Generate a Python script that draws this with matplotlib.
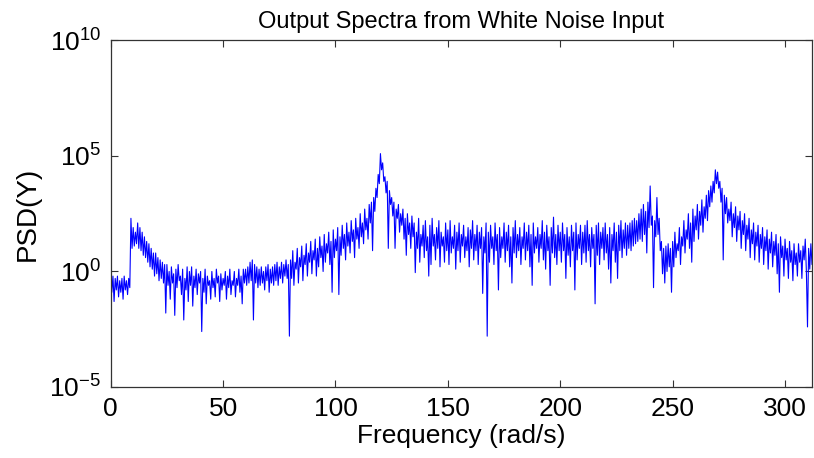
import matplotlib
matplotlib.use("Agg")
import matplotlib.pyplot as plt
from matplotlib.ticker import NullLocator, FixedLocator

plt.rcParams.update({
    "font.family": ["Liberation Sans", "DejaVu Sans"],
    "mathtext.default": "regular",
    "axes.unicode_minus": False,
})

# PSD, stored as log10 values, one every 0.5 rad/s from 0
psd_log10 = [
    0.3, -0.9, -0.2, -1.3, -0.3, -0.8, -0.2, -1.1, -0.4, -0.9,
    -0.3, -1.2, -0.2, -0.8, -0.4, -1.0, -0.3, -0.7, 2.3, 1.0,
    1.9, 1.1, 1.7, 1.2, 2.1, 1.0, 1.9, 0.9, 1.7, 0.7,
    1.5, 0.6, 1.3, 0.4, 1.2, 0.2, 1.0, 0.1, 0.8, -0.2,
    0.8, -0.1, 0.6, -0.4, 0.5, -0.3, 0.4, -0.5, 0.3, -1.8,
    0.3, -0.6, 0.0, -1.2, 0.2, -0.5, -0.1, -1.9, 0.1, -0.7,
    0.3, -0.4, -0.2, -1.0, 0.1, -2.1, -0.3, -0.8, 0.2, -1.3,
    0.0, -0.6, 0.2, -1.5, -0.2, -0.7, 0.1, -1.0, -0.1, -0.5,
    0.0, -2.6, -0.3, -0.9, 0.1, -1.4, -0.2, -0.6, -0.4, -1.2,
    0.0, -0.7, -0.3, -1.1, 0.1, -0.5, -0.2, -1.3, -0.1, -0.8,
    -0.3, -0.6, 0.0, -1.2, -0.2, -0.7, 0.1, -1.0, -0.4, -0.6,
    0.0, -1.1, -0.3, -0.6, 0.1, -0.9, -0.2, -1.4, 0.1, -0.5,
    0.1, -0.6, 0.2, -0.5, 0.4, -0.4, 0.5, -2.1, 0.3, -0.5,
    0.2, -0.7, 0.1, -0.6, 0.2, -0.5, 0.0, -0.8, 0.2, -0.4,
    0.3, -0.9, 0.1, -0.5, 0.2, -0.6, 0.3, -0.4, 0.4, -0.6,
    0.2, -0.3, 0.4, -0.5, 0.3, -0.2, 0.5, -0.3, 0.3, -2.8,
    0.5, -0.3, 0.9, -0.6, 0.4, 0.1, 1.0, -0.5, 0.6, 0.2,
    1.1, -0.4, 0.7, 0.3, 1.2, -0.2, 0.8, 0.4, 1.3, -0.1,
    0.9, 0.5, 1.4, -0.2, 1.0, 0.2, 1.5, 0.6, 1.1, 0.0,
    1.6, 0.4, 1.2, 0.8, 1.7, 0.3, 1.3, -0.9, 1.8, 0.6,
    1.4, 0.9, 1.9, -1.0, 1.5, 0.7, 2.0, 1.0, 1.6, 0.5,
    2.1, 1.1, 1.7, 0.8, 2.2, 1.3, 1.8, 0.6, 2.3, 1.4,
    1.9, 1.0, 2.5, 1.5, 2.1, 1.2, 2.7, 1.8, 2.3, 1.4,
    2.9, 2.1, 3.0, 0.9, 3.2, 2.6, 3.6, 3.2, 4.2, 3.8,
    5.1, 4.4, 4.7, 3.9, 4.1, 3.4, 3.9, 1.0, 3.5, 2.9,
    3.2, 2.4, 3.0, 1.0, 2.7, 2.3, 2.9, 1.7, 2.5, 2.0,
    2.7, 1.4, 2.3, 0.7, 2.5, 1.6, 2.1, 1.0, 2.4, 1.5,
    2.1, -0.05, 1.7, 1.0, 2.3, 0.4, 1.6, 1.1, 2.0, 0.6,
    2.2, 0.9, 1.5, -0.2, 2.0, 0.3, 2.3, 1.1, 1.6, 0.5,
    1.9, 1.0, 2.2, 0.2, 1.7, 1.1, 1.5, 0.4, 2.1, 0.9,
    1.8, 0.3, 2.2, 0.8, 1.5, 1.0, 2.0, 0.1, 1.7, 0.9,
    2.1, 0.4, 1.6, 1.1, 2.0, 0.6, 1.5, 0.9, 1.9, 0.2,
    1.8, 1.0, 2.2, 0.5, 1.6, 0.9, 2.0, 0.3, 1.7, 1.0,
    1.9, -0.95, 1.5, 0.8, 2.1, -2.8, 1.7, 0.4, 2.0, 1.0,
    1.5, 0.3, 2.1, 0.9, 1.6, -0.8, 1.9, 0.6, 1.5, 1.0,
    2.1, 0.4, 1.7, 0.9, 2.0, 0.2, 1.5, -0.5, 1.9, 0.8,
    2.2, 0.6, 1.6, 0.9, 1.9, 0.3, 1.5, 1.0, 2.1, 0.5,
    1.7, 0.9, 2.0, 0.2, 1.6, -0.6, 2.1, 0.8, 1.5, 1.0,
    1.9, 0.4, 1.6, 1.0, 2.2, 0.5, 1.7, 0.1, 2.0, 0.9,
    1.5, -0.6, 1.9, 0.8, 2.35, 0.6, 1.6, 0.3, 2.0, 0.9,
    1.7, 0.4, 2.1, 0.9, 1.6, -0.3, 1.9, 0.7, 1.5, 0.2,
    2.0, 0.9, 1.7, -0.8, 2.1, 0.5, 1.6, 1.0, 2.0, 0.3,
    1.7, 0.8, 2.0, 0.4, 2.2, 0.9, 1.6, 0.2, 1.9, 1.0,
    1.6, -1.4, 2.0, 0.7, 2.1, 0.3, 1.7, 1.0, 1.9, 0.5,
    2.1, 0.8, 1.6, 0.1, 1.9, -0.5, 1.6, 0.9, 2.1, 0.4,
    1.7, -0.3, 2.0, 0.9, 2.2, 0.6, 1.8, 1.0, 2.1, 0.7,
    2.0, 1.0, 2.1, 0.9, 2.2, 1.1, 2.3, 1.2, 2.2, 1.3,
    2.5, 1.4, 2.7, 1.3, 2.9, 1.6, 2.6, 0.8, 3.0, 1.9,
    3.7, 2.0, 2.4, -0.7, 2.2, 1.5, 3.2, 1.6, 2.3, 0.9,
    1.3, -0.1, 1.0, -0.5, 1.1, 0.0, 1.2, 0.2, 1.0, -0.9,
    1.3, 0.2, 1.7, 0.6, 1.2, 0.9, 1.9, 0.3, 1.5, 1.1,
    2.2, 0.8, 1.8, 1.4, 2.5, 1.0, 2.1, 0.4, 2.7, 1.3,
    2.4, 1.8, 2.9, 1.4, 2.6, 2.0, 3.1, 1.7, 2.8, 2.3,
    3.3, 2.2, 3.5, 2.8, 3.7, 3.0, 3.9, 3.4, 4.4, 3.8,
    4.3, 3.6, 3.9, 3.0, 3.6, 0.5, 3.3, 2.5, 3.2, 2.1,
    2.7, 2.2, 3.0, 1.5, 2.5, 1.9, 2.8, 1.3, 2.4, 1.8,
    2.6, 1.0, 2.2, 1.6, 2.5, 0.9, 2.0, 1.4, 2.3, 0.6,
    1.8, 1.2, 2.1, 0.5, 1.7, 1.1, 2.0, 0.4, 1.6, 1.0,
    1.9, 0.3, 1.5, 0.9, 1.8, 0.1, 1.4, 0.8, 1.7, 0.2,
    1.3, 0.7, 1.6, -0.1, 1.2, -0.9, 1.5, 0.6, 1.1, -0.2,
    1.4, 0.5, 1.0, -0.3, 1.3, 0.4, 0.9, -0.4, 1.2, 0.3,
    0.8, -0.2, 1.2, 0.4, 0.9, -0.3, 1.1, 0.5, 1.4, 0.0,
    -2.4, 1.0, 0.1, 1.2, 0.3, 1.0, 0.4,
]
freq = [0.5 * i for i in range(len(psd_log10))]  # rad/s
psd = [10 ** v for v in psd_log10]

x_ticks = [0, 50, 100, 150, 200, 250, 300]
y_ticks = [1e-5, 1e0, 1e5, 1e10]

fig = plt.figure(figsize=(8.14, 4.58), dpi=100)
ax = fig.add_axes([110.7 / 814, 71 / 458, (812 - 110.7) / 814, (387.3 - 40.7) / 458])

ax.semilogy(freq, psd, color="#0000ff", linewidth=0.8)
ax.set_xlim(0, 312)
ax.set_ylim(1e-5, 1e10)
ax.xaxis.set_major_locator(FixedLocator(x_ticks))
ax.yaxis.set_major_locator(FixedLocator(y_ticks))
ax.yaxis.set_minor_locator(NullLocator())
ax.tick_params(which="both", direction="in", top=True, right=True, length=5,
               width=0.8, labelsize=19, pad=7, colors="#333333", labelcolor="black")
for s in ax.spines.values():
    s.set_color("#333333")
    s.set_linewidth(0.9)

ax.set_title("Output Spectra from White Noise Input", fontsize=17, pad=9)
ax.set_xlabel("Frequency (rad/s)", fontsize=19, labelpad=2)
ax.set_ylabel("PSD(Y)", fontsize=20, labelpad=6)

fig.savefig("out.png", dpi=100)
